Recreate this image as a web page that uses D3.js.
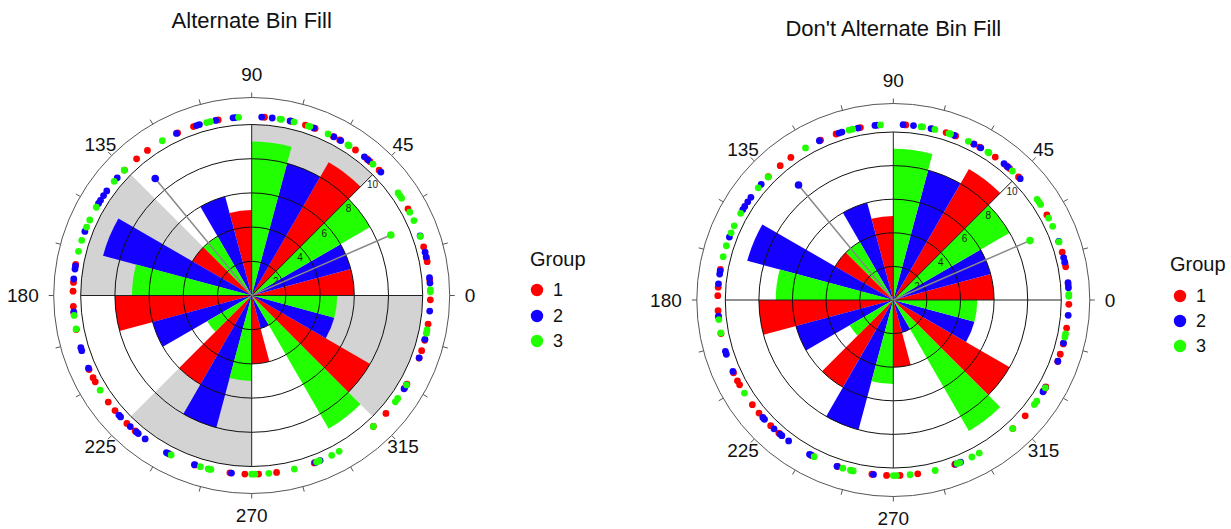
<!DOCTYPE html>
<html>
<head>
<meta charset="utf-8">
<script src="https://cdn.jsdelivr.net/npm/d3@7"></script>
<style>
  html, body { margin: 0; padding: 0; background: #fff; }
  svg { display: block; font-family: "Liberation Sans", Arial, sans-serif; }
</style>
</head>
<body>
<svg id="chart" width="1231" height="529"></svg>
<script>
// ---------------- DATA ----------------
const binStarts = [0, 45, 90, 135, 180, 225, 270, 315];
const binWidth = 45;
const groups = ["1", "2", "3"];
const groupColors = ["#ff0000", "#1400ff", "#22ff00"];
// counts per 45° bin for each group
const group1Counts = [6, 9, 5, 4, 8, 6, 4, 8];
const group2Counts = [6, 8, 6, 9, 6, 8, 2, 5];
const group3Counts = [8, 9, 4, 7, 3, 5, 9, 5];
// raw angles (degrees) of the observations, drawn on the outer ring
const group1Angles = [5.0, 10.9, 12.0, 15.8, 29.0, 44.5,
  48.5, 49.8, 54.5, 60.5, 62.8, 69.2, 72.5, 77.2, 85.9,
  100.8, 109.0, 114.5, 125.7, 130.1,
  135.4, 170.0, 175.8, 178.6,
  183.5, 185.5, 191.0, 204.5, 207.4, 208.9, 216.6, 220.1,
  225.7, 229.3, 242.5, 251.5, 263.0, 267.8,
  272.2, 278.0, 290.5, 312.9,
  318.7, 328.8, 330.3, 339.5, 342.0, 345.5, 350.8, 358.6];
const group2Angles = [4.0, 5.7, 12.5, 14.0, 19.5, 43.7,
  49.3, 50.9, 60.1, 62.6, 69.7, 77.6, 83.4, 86.8,
  95.3, 96.0, 101.6, 107.0, 108.0, 114.9,
  138.8, 144.2, 146.0, 147.8, 149.0, 159.0, 170.5, 171.5, 174.7,
  185.3, 197.0, 198.0, 204.0, 222.0, 222.8,
  227.2, 229.8, 230.6, 233.4, 241.5, 242.0, 251.3, 263.5,
  290.9, 292.5,
  328.5, 330.0, 339.6, 345.8, 355.0];
const group3Angles = [1.2, 1.8, 19.3, 24.8, 27.8, 33.0, 34.0, 35.0,
  47.3, 57.0, 57.4, 64.7, 71.0, 71.5, 76.3, 80.4, 80.9,
  94.2, 103.4, 104.6, 120.0,
  135.5, 140.3, 150.4, 155.0, 157.5, 162.0, 165.7,
  186.4, 190.8, 212.0,
  243.2, 253.3, 255.9, 256.2, 256.8,
  270.0, 271.0, 275.5, 283.8, 291.3, 292.2, 296.6, 299.3, 312.9,
  323.5, 324.8, 330.0, 347.8, 348.9];
// mean vectors (angle in degrees, length in count units); group 1 not drawn
const meanAngles = [null, 129.5, 23.5];
const meanLengths = [null, 8.87, 8.87];
const radialTicks = [2, 4, 6, 8, 10];
const angleTicks = [0, 45, 90, 135, 180, 225, 270, 315];
const minorAngleTicks = d3.range(0, 360, 15);
const titles = ["Alternate Bin Fill", "Don't Alternate Bin Fill"];

// ---------------- DRAW ----------------
const svg = d3.select("#chart");
const countsByGroup = [group1Counts, group2Counts, group3Counts];
const anglesByGroup = [group1Angles, group2Angles, group3Angles];

const charts = [
  { cx: 251.7, cy: 295.5, R: 171, outer: 198, alt: true, title: titles[0], titleY: 28,
    legend: { x: 530, y: 266, cx: 537, ys: [290, 316, 341], tx: 553 } },
  { cx: 893.3, cy: 300, R: 168, outer: 196.5, alt: false, title: titles[1], titleY: 36,
    legend: { x: 1170, y: 271, cx: 1180, ys: [296, 321, 346], tx: 1196 } }
];

const toRad = d => d * Math.PI / 180;
// d3.arc angle: 0 at 12 o'clock, clockwise
const arcAngle = d => toRad(90 - d);

charts.forEach(ch => {
  const g = svg.append("g").attr("transform", `translate(${ch.cx},${ch.cy})`);
  const r = d3.scaleLinear().domain([0, 10]).range([0, ch.R]);
  const px = (deg, rad) => rad * Math.cos(toRad(deg));
  const py = (deg, rad) => -rad * Math.sin(toRad(deg));

  // alternating bin fill
  if (ch.alt) {
    g.selectAll("path.binfill")
      .data(binStarts.filter((d, i) => i % 2 === 1))
      .enter().append("path")
      .attr("d", d => d3.arc().innerRadius(0).outerRadius(r(10))
        .startAngle(arcAngle(d + binWidth)).endAngle(arcAngle(d))())
      .attr("fill", "#d3d3d3");
  }

  // bars
  const sub = binWidth / groups.length;
  const bars = [];
  binStarts.forEach((b, bi) => {
    groups.forEach((gr, gi) => {
      bars.push({ a0: b + gi * sub, a1: b + (gi + 1) * sub, v: countsByGroup[gi][bi], color: groupColors[gi] });
    });
  });
  g.selectAll("path.bar").data(bars).enter().append("path")
    .attr("d", d => d3.arc().innerRadius(0).outerRadius(r(d.v))
      .startAngle(arcAngle(d.a1)).endAngle(arcAngle(d.a0))())
    .attr("fill", d => d.color);

  // rings
  g.selectAll("circle.ring").data(radialTicks).enter().append("circle")
    .attr("r", d => r(d)).attr("fill", "none").attr("stroke", "#111").attr("stroke-width", 1);

  // cross lines
  g.append("line").attr("x1", -r(10)).attr("x2", r(10)).attr("y1", 0).attr("y2", 0)
    .attr("stroke", "#222").attr("stroke-width", 1);
  g.append("line").attr("x1", 0).attr("x2", 0).attr("y1", -r(10)).attr("y2", r(10))
    .attr("stroke", "#222").attr("stroke-width", 1);
  // radial axis at 45°
  g.append("line").attr("x1", 0).attr("y1", 0)
    .attr("x2", px(45, r(10))).attr("y2", py(45, r(10)))
    .attr("stroke", "#111").attr("stroke-width", 1);
  g.selectAll("text.rtick").data(radialTicks).enter().append("text")
    .attr("x", d => px(45, r(d)))
    .attr("y", d => py(45, r(d)) + 11)
    .attr("text-anchor", "middle").attr("dominant-baseline", "middle")
    .attr("font-size", 10).attr("fill", "#222")
    .text(d => d);

  // outer circle + ticks
  g.append("circle").attr("r", ch.outer).attr("fill", "none").attr("stroke", "#555").attr("stroke-width", 1);
  g.selectAll("line.atick").data(minorAngleTicks).enter().append("line")
    .attr("x1", d => px(d, ch.outer)).attr("y1", d => py(d, ch.outer))
    .attr("x2", d => px(d, ch.outer + 5)).attr("y2", d => py(d, ch.outer + 5))
    .attr("stroke", "#555").attr("stroke-width", 1);

  // angle labels
  const lr = ch.outer + 15;
  g.selectAll("text.alabel").data(angleTicks).enter().append("text")
    .attr("x", d => px(d, d % 90 === 0 ? lr : lr + 1))
    .attr("y", d => py(d, d % 90 === 0 ? lr : lr + 1))
    .attr("text-anchor", d => d === 0 ? "start" : d === 180 ? "end" : "middle")
    .attr("dy", d => d === 90 ? "-0.08em" : d === 270 ? "0.72em" : "0.35em")
    .attr("font-size", 19).attr("fill", "#111")
    .text(d => d);

  // raw observations on the ring
  const dotR = r(10.45);
  anglesByGroup.forEach((arr, gi) => {
    g.selectAll(null).data(arr).enter().append("circle")
      .attr("cx", d => px(d, dotR)).attr("cy", d => py(d, dotR))
      .attr("r", 3.4).attr("fill", groupColors[gi]);
  });

  // mean vectors
  meanAngles.forEach((a, gi) => {
    if (a === null) return;
    const L = r(meanLengths[gi]);
    g.append("line").attr("x1", 0).attr("y1", 0)
      .attr("x2", px(a, L)).attr("y2", py(a, L))
      .attr("stroke", "#888").attr("stroke-width", 1.5);
    g.append("circle").attr("cx", px(a, L)).attr("cy", py(a, L))
      .attr("r", 3.8).attr("fill", groupColors[gi]);
  });

  // title
  svg.append("text").attr("x", ch.cx).attr("y", ch.titleY)
    .attr("text-anchor", "middle").attr("font-size", 22).attr("fill", "#111")
    .text(ch.title);

  // legend
  const lg = ch.legend;
  svg.append("text").attr("x", lg.x).attr("y", lg.y).attr("font-size", 20).attr("fill", "#111").text("Group");
  groups.forEach((gr, gi) => {
    svg.append("circle").attr("cx", lg.cx).attr("cy", lg.ys[gi]).attr("r", 6.2).attr("fill", groupColors[gi]);
    svg.append("text").attr("x", lg.tx).attr("y", lg.ys[gi]).attr("dy", "0.36em")
      .attr("font-size", 18).attr("fill", "#111").text(gr);
  });
});
</script>
</body>
</html>
